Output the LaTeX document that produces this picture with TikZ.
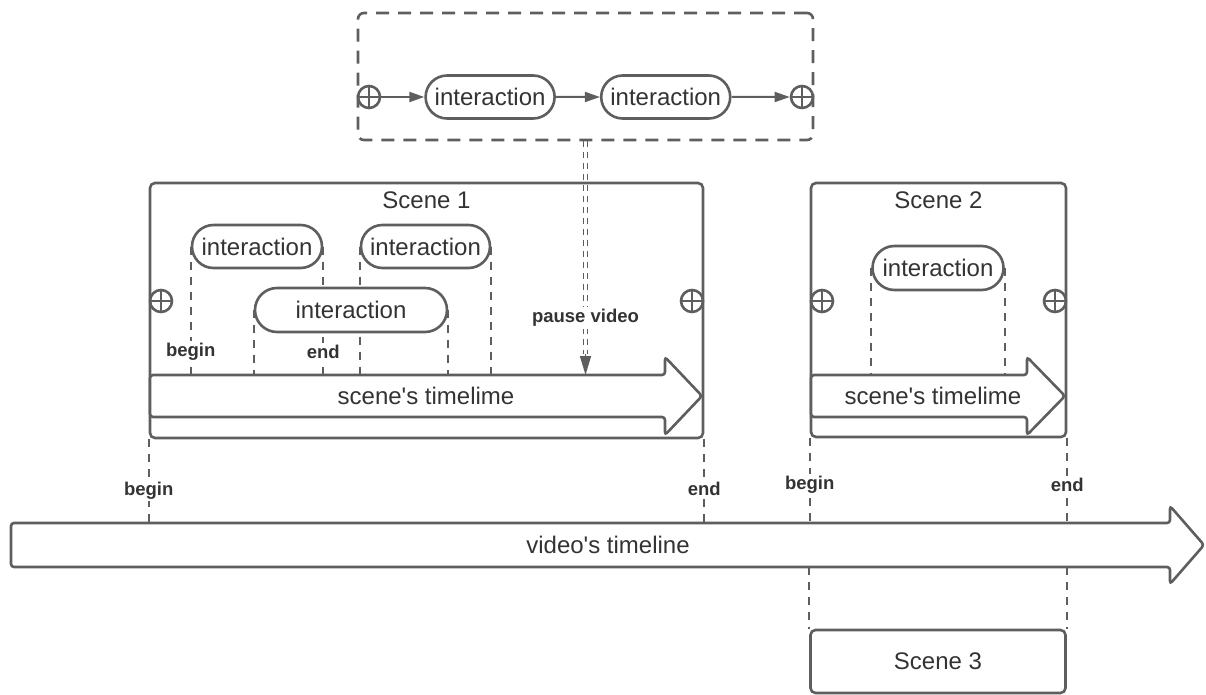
\documentclass[tikz,border=0pt]{standalone}
\usepackage{fontspec}
\setmainfont{Liberation Sans}[Ligatures=TeXOff]
\usetikzlibrary{arrows.meta,calc,positioning,shapes.misc}
\pgfdeclarelayer{background}
\pgfsetlayers{background,main}
\definecolor{linegray}{HTML}{5E5E5E}
\definecolor{textgray}{HTML}{333333}

\begin{document}
\begin{tikzpicture}
  [
    x = 1pt,
    y = -1pt,
    font = \fontsize{24}{28}\selectfont,
    text = textgray,
    every node/.style = {
      draw = linegray,
      line width = 2.6pt,
      inner sep = 0pt,
    },
    pill/.style = {
      rounded rectangle,
      fill = white,
      minimum width = 129pt,
      minimum height = 43pt,
    },
    scenebox/.style = {
      rounded corners = 5pt,
    },
    plus/.style = {
      circle,
      minimum size = 22pt,
      path picture = {
        \draw [linegray, line width=2.4pt]
          (path picture bounding box.north) -- (path picture bounding box.south)
          (path picture bounding box.west) -- (path picture bounding box.east);
      },
    },
    caption/.style = {
      draw = none,
    },
    tag/.style = {
      draw = none,
      fill = white,
      inner sep = 2pt,
      font = \fontsize{18.5}{22}\selectfont\bfseries,
    },
    guide/.style = {
      draw = linegray,
      line width = 1.8pt,
      dash pattern = on 8pt off 7pt,
    },
    pausepair/.style = {
      draw = linegray,
      line width = 1.7pt,
      double = white,
      double distance = 2.2pt,
      dash pattern = on 6pt off 5pt,
    },
    timeline/.style = {
      draw = linegray,
      line width = 2.6pt,
      fill = white,
      rounded corners = 3pt,
    },
    > = {Triangle[length=15pt, width=10pt]},
  ]

  \useasboundingbox (0,0) rectangle (1206,695);

  \node (flow) [
    dash pattern = on 13pt off 9pt,
    rounded corners = 6pt,
    minimum width = 455pt,
    minimum height = 127pt,
  ] at (585.5, 76.5) {};

  \node (flow in) [plus, anchor=west] at (flow.west |- 0,97) {};
  \node (flow a) [pill, right=43pt of flow in] {interaction};
  \node (flow b) [pill, right=44pt of flow a] {interaction};
  \node (flow out) [plus, anchor=east] at (flow.east |- flow b) {};

  \draw [->, linegray, line width=2pt] (flow in) -- (flow a);
  \draw [->, linegray, line width=2pt] (flow a) -- (flow b);
  \draw [->, linegray, line width=2pt] (flow b) -- (flow out);

  \node (scene1) [
    scenebox,
    minimum width = 553pt,
    minimum height = 255pt,
  ] at (426.5, 310.5) {};
  \node (scene1 title) [caption, below=9pt of scene1.north] {Scene 1};
  \node (scene1 in) [plus, anchor=west] at (scene1.west |- 0,301) {};
  \node (scene1 out) [plus, anchor=east] at (scene1.east |- 0,301) {};

  \node (act1) [pill, minimum width=130pt] at (257, 246.5) {interaction};
  \node (act2) [pill] at (425.5, 246.5) {interaction};
  \node (act3) [pill, minimum width=192pt, minimum height=44pt] at (351, 310) {interaction};

  \draw [timeline] (150,375) coordinate (tl1 top) -- (665,375) -- (665,357)
    -- (702,396) -- (665,435) -- (665,417) -- (150,417) -- cycle;
  \node (tl1) [caption] at (426, 396) {scene's timelime};

  \node (scene2) [
    scenebox,
    minimum width = 255pt,
    minimum height = 254pt,
  ] at (938.5, 310) {};
  \node (scene2 title) [caption, below=9pt of scene2.north] {Scene 2};
  \node (scene2 in) [plus, anchor=west] at (scene2.west |- 0,301) {};
  \node (scene2 out) [plus, anchor=east] at (scene2.east |- 0,301) {};

  \node (act4) [pill, minimum width=131pt, minimum height=44pt] at (938, 268) {interaction};

  \draw [timeline] (811,375) coordinate (tl2 top) -- (1027,375) -- (1027,357)
    -- (1065,396) -- (1027,435) -- (1027,417) -- (811,417) -- cycle;
  \node (tl2) [caption] at (933, 396) {scene's timelime};

  \draw [timeline] (11,523) coordinate (video top) -- (1170,523) -- (1170,506)
    -- (1204,545) -- (1170,584) -- (1170,567) -- (11,567) coordinate (video bottom) -- cycle;
  \node (video) [caption] at (608, 545) {video's timeline};

  \node (scene3) [
    scenebox,
    minimum width = 255pt,
    minimum height = 63pt,
  ] at (938, 661.5) {Scene 3};

  \coordinate (pause) at (flow.south |- tl1 top);
  \coordinate (pause end) at ($ (pause) + (0,-21) $);
  \node (pause tag) [tag] at (pause |- 0,318) {pause video};

  \begin{pgfonlayer}{background}
    \draw [pausepair] (flow.south) -- (pause end);
    \draw [-{Triangle[length=19pt, width=11pt]}, linegray, line width=1.5pt] (pause end) -- (pause);

    \draw [guide] (act1.west) -- node [tag, pos=0.82] {begin} (act1.west |- tl1 top);
    \draw [guide] (act1.east) -- node [tag, pos=0.82] {end} (act1.east |- tl1 top);
    \draw [guide] (act2.west) -- (act2.west |- tl1 top);
    \draw [guide] (act2.east) -- (act2.east |- tl1 top);
    \draw [guide] (act3.west) -- (act3.west |- tl1 top);
    \draw [guide] (act3.east) -- (act3.east |- tl1 top);

    \draw [guide] (act4.west) -- (act4.west |- tl2 top);
    \draw [guide] (act4.east) -- (act4.east |- tl2 top);

    \draw [guide] (scene1.south west) -- node [tag, pos=0.61] {begin} (scene1.south west |- video top);
    \draw [guide] (scene1.south east) -- node [tag, pos=0.59] {end} (scene1.south east |- video top);
    \draw [guide] (scene2.south west) -- node [tag, pos=0.55] {begin} (scene2.south west |- video top);
    \draw [guide] (scene2.south east) -- node [tag, pos=0.55] {end} (scene2.south east |- video top);

    \draw [guide] (scene3.north west |- video bottom) -- (scene3.north west);
    \draw [guide] (scene3.north east |- video bottom) -- (scene3.north east);
  \end{pgfonlayer}

\end{tikzpicture}
\end{document}
